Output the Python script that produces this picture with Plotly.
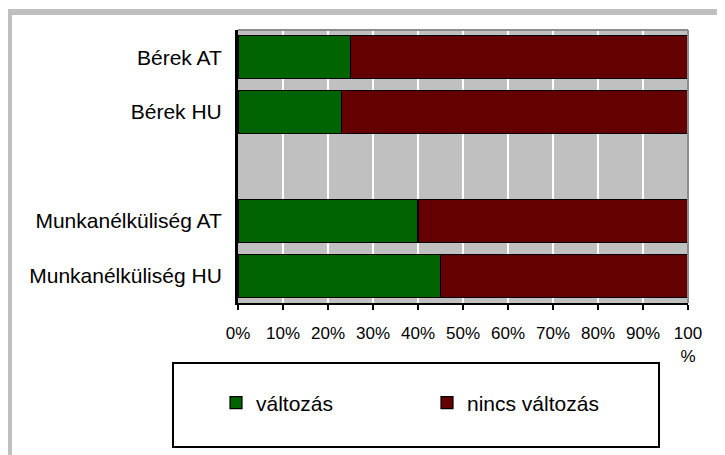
import plotly.graph_objects as go

categories = ["Bérek AT", "Bérek HU", " ", "Munkanélküliség AT", "Munkanélküliség HU"]
valtozas = [25, 23, None, 40, 45]
nincs_valtozas = [75, 77, None, 60, 55]
tick_vals = [0, 10, 20, 30, 40, 50, 60, 70, 80, 90, 100]
tick_text = ["0%", "10%", "20%", "30%", "40%", "50%", "60%", "70%", "80%", "90%", "100<br>%"]

FONT = "Liberation Sans, Arial, sans-serif"

fig = go.Figure()
fig.add_trace(go.Bar(
    y=categories, x=valtozas, orientation="h", name="változás",
    marker=dict(color="#006400", line=dict(color="black", width=1.2)),
))
fig.add_trace(go.Bar(
    y=categories, x=nincs_valtozas, orientation="h", name="nincs változás",
    marker=dict(color="#650000", line=dict(color="black", width=1.2)),
))

# page body has an 8px default margin; work in screen coordinates minus 8
OFF = 8
W, H = 725 - OFF, 455 - OFF
L, T = 238 - OFF, 30 - OFF
R = W - (688 - OFF)
B = H - (303 - OFF)
pw, ph = W - L - R, H - T - B

def px(xs):
    return (xs - OFF - L) / pw

def py(ys):
    return (H - B - (ys - OFF)) / ph

shapes = [
    # outer gray frame
    dict(type="rect", xref="paper", yref="paper",
         x0=px(9), x1=px(745), y0=py(475), y1=py(12),
         line=dict(color="#c0c0c0", width=6), fillcolor="rgba(0,0,0,0)", layer="below"),
    # plot area top and right borders
    dict(type="line", xref="paper", yref="paper", x0=0, x1=1, y0=1, y1=1,
         line=dict(color="#8c8c8c", width=2)),
    dict(type="line", xref="paper", yref="paper", x0=1, x1=1, y0=0, y1=1,
         line=dict(color="#8c8c8c", width=2)),
    # legend box
    dict(type="rect", xref="paper", yref="paper",
         x0=px(173), x1=px(659), y0=py(447), y1=py(363),
         line=dict(color="black", width=2), fillcolor="rgba(0,0,0,0)"),
]

fig.update_layout(
    width=W, height=H,
    margin=dict(l=L, r=R, t=T, b=B, pad=0),
    barmode="stack", bargap=0.21,
    paper_bgcolor="white", plot_bgcolor="#c0c0c0",
    font=dict(family=FONT, color="black", size=21),
    showlegend=True,
    legend=dict(orientation="h", x=px(427), xanchor="center", y=py(403), yanchor="middle",
                font=dict(family=FONT, size=21, color="black"),
                bgcolor="rgba(0,0,0,0)", borderwidth=0,
                entrywidth=166, entrywidthmode="pixels", traceorder="normal"),
    shapes=shapes,
    xaxis=dict(range=[0, 100], tickvals=tick_vals, ticktext=tick_text,
               showgrid=True, gridcolor="white", gridwidth=2,
               showline=True, linecolor="black", linewidth=2,
               ticks="outside", ticklen=5, tickwidth=2, tickcolor="black",
               ticklabelstandoff=9,
               tickfont=dict(family=FONT, size=17, color="black"),
               zeroline=False, fixedrange=True),
    yaxis=dict(type="category", categoryorder="array", categoryarray=categories,
               autorange="reversed",
               showline=True, linecolor="black", linewidth=3,
               showgrid=False, ticks="", ticklabelstandoff=9,
               tickfont=dict(family=FONT, size=21, color="black"),
               fixedrange=True),
)

fig.write_html("out.html")
